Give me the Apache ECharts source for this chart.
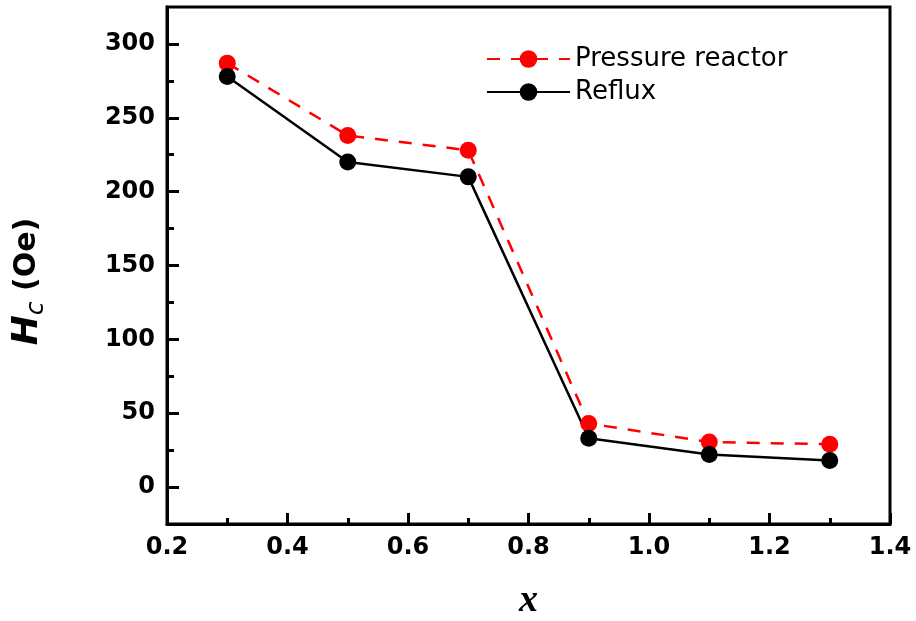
<!DOCTYPE html>
<html lang="en">
<head>
    <meta charset="UTF-8"/>
    <title>Hc vs x</title>
    <script src="https://cdn.jsdelivr.net/npm/echarts@6/dist/echarts.min.js"></script>
</head>
<body style="margin:0">

<div id="main" style="width:916px; height:621px;"></div>

<script type="text/javascript">

    var xValues = [0.3, 0.5, 0.7, 0.9, 1.1, 1.3];
    var pressureReactor = [287, 238, 228, 43, 30.5, 29];
    var reflux = [278, 220, 210, 33, 22, 18];
    var seriesNames = ['Pressure reactor', 'Reflux'];

    function pairs(xs, ys) {
        var out = [];
        for (var i = 0; i < xs.length; i++) {
            out.push([xs[i], ys[i]]);
        }
        return out;
    }

    var myChart = echarts.init(document.getElementById('main'));

    var font = '"DejaVu Sans", "Liberation Sans", sans-serif';
    // plot box in px
    var boxTop = 7, boxBottom = 524;
    var pxPerUnit = (boxBottom - boxTop) / 350;
    var y300 = boxBottom - 325 * pxPerUnit;
    var y0 = boxBottom - 25 * pxPerUnit;

    var option = {
        backgroundColor: '#fff',
        grid: [
            {left: 167, right: 26, top: boxTop, bottom: 621 - boxBottom,
             outerBoundsMode: 'none', containLabel: false,
             show: true, borderColor: '#000', borderWidth: 3},
            // tick-only grid spanning 0..300 on the same scale
            {left: 167, right: 26, top: y300, bottom: 621 - y0,
             outerBoundsMode: 'none', containLabel: false}
        ],
        legend: {
            left: 481,
            top: 41,
            orient: 'vertical',
            itemWidth: 83,
            itemHeight: 22,
            itemGap: 7,
            textStyle: {fontFamily: font, fontSize: 26, color: '#000'},
            data: seriesNames
        },
        xAxis: [
            {
                type: 'value',
                gridIndex: 0,
                min: 0.2,
                max: 1.4,
                interval: 0.2,
                name: 'x',
                nameLocation: 'middle',
                nameGap: 58,
                nameTextStyle: {fontFamily: '"Liberation Serif", "DejaVu Serif", serif',
                    fontStyle: 'italic', fontWeight: 'bold', fontSize: 38, color: '#000'},
                axisLine: {onZero: false, lineStyle: {color: '#000', width: 3}},
                axisTick: {inside: true, length: 11, lineStyle: {color: '#000', width: 3}},
                minorTick: {show: true, splitNumber: 2, length: 6, lineStyle: {color: '#000', width: 3}},
                axisLabel: {fontFamily: font, fontWeight: 'bold', fontSize: 24, color: '#000', margin: 12,
                    formatter: function (v) { return v.toFixed(1); }},
                splitLine: {show: false}
            },
            {type: 'value', gridIndex: 1, min: 0.2, max: 1.4, show: false}
        ],
        yAxis: [
            {
                type: 'value',
                gridIndex: 0,
                min: -25,
                max: 325,
                interval: 25,
                axisLine: {onZero: false, lineStyle: {color: '#000', width: 3}},
                axisTick: {show: false},
                axisLabel: {show: false},
                splitLine: {show: false}
            },
            {
                type: 'value',
                gridIndex: 1,
                min: 0,
                max: 300,
                interval: 50,
                name: '{h|H}{c|c}{o| (Oe)}',
                nameLocation: 'middle',
                nameRotate: 90,
                nameGap: 118,
                nameTextStyle: {
                    color: '#000',
                    rich: {
                        h: {fontFamily: font, fontStyle: 'italic', fontWeight: 'bold', fontSize: 36, color: '#000'},
                        c: {fontFamily: font, fontStyle: 'italic', fontSize: 25, color: '#000',
                            verticalAlign: 'bottom', padding: [18, 0, 0, 0]},
                        o: {fontFamily: font, fontWeight: 'bold', fontSize: 30, color: '#000',
                            padding: [0, 32, 0, 0]}
                    }
                },
                axisLine: {show: false},
                axisTick: {inside: true, length: 12, lineStyle: {color: '#000', width: 3}},
                minorTick: {show: true, splitNumber: 2, length: 7, lineStyle: {color: '#000', width: 3}},
                axisLabel: {fontFamily: font, fontWeight: 'bold', fontSize: 24, color: '#000', margin: 12},
                splitLine: {show: false}
            }
        ],
        series: [
            {
                name: seriesNames[0],
                type: 'line',
                xAxisIndex: 0,
                yAxisIndex: 0,
                data: pairs(xValues, pressureReactor),
                symbol: 'circle',
                symbolSize: 17,
                itemStyle: {color: '#ff0000'},
                lineStyle: {color: '#ff0000', width: 2.5, type: [13, 11]},
                animation: false
            },
            {
                name: seriesNames[1],
                type: 'line',
                xAxisIndex: 0,
                yAxisIndex: 0,
                data: pairs(xValues, reflux),
                symbol: 'circle',
                symbolSize: 17,
                itemStyle: {color: '#000'},
                lineStyle: {color: '#000', width: 2.5},
                animation: false
            }
        ]
    };

    myChart.setOption(option);
</script>

</body>
</html>
